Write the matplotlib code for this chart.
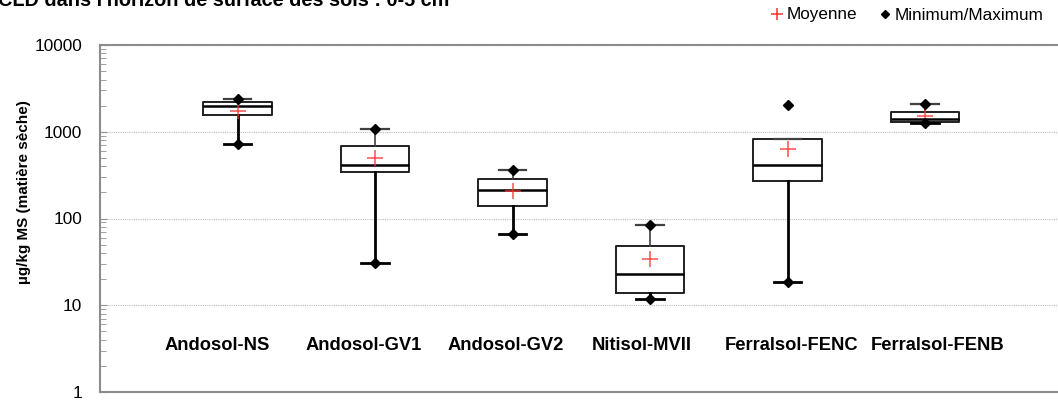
import matplotlib
matplotlib.use("Agg")
import matplotlib.pyplot as plt
from matplotlib.lines import Line2D
from matplotlib.ticker import LogLocator, NullFormatter, FixedLocator, FixedFormatter

plt.rcParams['font.family'] = ['Liberation Sans', 'DejaVu Sans']

# data (µg/kg MS)
sites = ["Andosol-NS", "Andosol-GV1", "Andosol-GV2", "Nitisol-MVII",
         "Ferralsol-FENC", "Ferralsol-FENB"]
q1 = [1560, 341, 141, 13.9, 271, 1285]
median = [1980, 417, 213, 22.7, 414, 1415]
q3 = [2220, 690, 288, 47.8, 819, 1690]
mean = [1750, 494, 207, 34.4, 628, 1507]
minimum = [717, 30.4, 66.3, 11.9, 18.7, 1271]
maximum = [2400, 1084, 362, 83.4, 2018, 2107]
whisker_hi = [2400, 1084, 362, 83.4, 819, 2107]

yticks = [1, 10, 100, 1000, 10000]

# layout
positions = [1, 2, 3, 4, 5, 6]
label_x = [0.85, 1.92, 2.95, 3.94, 5.03, 6.09]
red = '#ff3030'

fig = plt.figure(figsize=(10.58, 4.01), dpi=100)
ax = fig.add_axes([100 / 1058, 1 - 392 / 401, 957 / 1058, 347 / 401])

stats = []
for i in range(len(sites)):
    stats.append(dict(med=median[i], q1=q1[i], q3=q3[i], whislo=minimum[i],
                      whishi=whisker_hi[i], mean=mean[i], fliers=[]))

bp = ax.bxp(stats, positions=positions, widths=0.5, capwidths=0.2,
            showmeans=True, showfliers=False, patch_artist=False,
            boxprops=dict(color='#202020', lw=1.4),
            medianprops=dict(color='black', lw=1.8),
            whiskerprops=dict(color='black', lw=2),
            capprops=dict(color='black', lw=2),
            meanprops=dict(marker='+', markeredgecolor=red, markersize=12,
                           markeredgewidth=1.1, alpha=0.85))

# upper whiskers and caps drawn thinner
for w in bp['whiskers'][1::2]:
    w.set_linewidth(1.2)
    w.set_color('#404040')
for c in bp['caps'][1::2]:
    c.set_linewidth(1.6)
    c.set_color('#404040')

# min / max points
ax.plot(positions, minimum, 'D', color='black', ms=5, ls='none', zorder=5)
ax.plot(positions, maximum, 'D', color='black', ms=5, ls='none', zorder=5)

ax.set_yscale('log')
ax.set_ylim(1, 10000)
ax.set_xlim(0, 6.96)
ax.yaxis.set_major_locator(FixedLocator(yticks))
ax.yaxis.set_major_formatter(FixedFormatter([str(v) for v in yticks]))
ax.yaxis.set_minor_locator(LogLocator(base=10, subs=range(2, 10)))
ax.yaxis.set_minor_formatter(NullFormatter())
ax.tick_params(axis='y', which='major', direction='in', length=5, color='#909090',
               labelsize=12.4, pad=13)
ax.tick_params(axis='y', which='minor', direction='in', length=4, color='#909090')
ax.set_xticks([])
ax.grid(axis='y', which='major', ls=(0, (1, 1)), color='#b8b8b8', lw=0.8)
ax.set_axisbelow(True)

for side in ['left', 'bottom', 'top']:
    ax.spines[side].set_color('#8c8c8c')
    ax.spines[side].set_linewidth(1.5)
ax.spines['right'].set_visible(False)

fig.text(24 / 1058, 1 - 192 / 401, "µg/kg MS (matière sèche)", rotation=90,
         ha='center', va='center', fontsize=11, fontweight='bold')

for x, name in zip(label_x, sites):
    ax.text(x, 0.135, name, transform=ax.get_xaxis_transform(), ha='center',
            va='center', fontsize=13.2, fontweight='bold')

fig.text(-0.002, 1 - 6 / 401, "CLD dans l'horizon de surface des sols : 0-5 cm",
         fontsize=14.3, fontweight='bold', va='baseline', ha='left')

handles = [Line2D([], [], marker='+', color=red, ls='none', ms=9, mew=1.1),
           Line2D([], [], marker='D', color='black', ls='none', ms=4)]
fig.legend(handles, ["Moyenne", "Minimum/Maximum"], loc='center right',
           bbox_to_anchor=(1044 / 1058, 1 - 15 / 401), ncol=2, frameon=False,
           fontsize=12.3, handlelength=0.8, handletextpad=0.2, columnspacing=1.2,
           borderpad=0, borderaxespad=0)

fig.savefig("out.png", dpi=100)
